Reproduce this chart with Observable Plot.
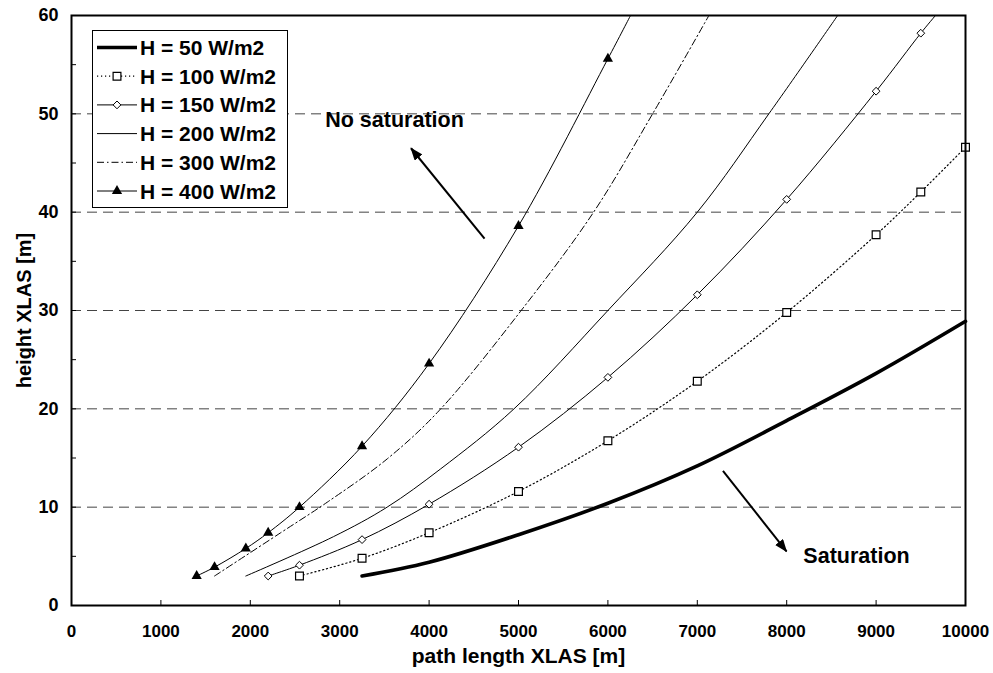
<!DOCTYPE html>
<html>
<head>
<meta charset="utf-8">
<script src="https://cdn.jsdelivr.net/npm/d3@7"></script>
<script src="https://cdn.jsdelivr.net/npm/@observablehq/plot@0.6"></script>
<style>
  body { margin: 0; background: #fff; }
  #chart { width: 993px; height: 673px; }
</style>
</head>
<body>
<div id="chart"></div>
<script>
// ---------------- data ----------------
const seriesNames = ["H = 50 W/m2", "H = 100 W/m2", "H = 150 W/m2", "H = 200 W/m2", "H = 300 W/m2", "H = 400 W/m2"];

const h50X  = [3250, 4000, 5000, 6000, 7000, 8000, 9000, 10000];
const h50Y  = [3, 4.4, 7.2, 10.4, 14.2, 18.8, 23.6, 28.9];

const h100X = [2550, 3250, 4000, 5000, 6000, 7000, 8000, 9000, 9500, 10000];
const h100Y = [3, 4.8, 7.4, 11.6, 16.75, 22.8, 29.8, 37.7, 42.05, 46.6];

const h150X = [2200, 2550, 3250, 4000, 5000, 6000, 7000, 8000, 9000, 9500];
const h150Y = [3, 4.1, 6.7, 10.3, 16.1, 23.2, 31.6, 41.3, 52.3, 58.2];

const h200X = [1950, 2930, 3530, 4130, 4950, 6000, 7000, 7800];
const h200Y = [3, 7, 10, 13.9, 20, 30, 40, 50];

const h300X = [1600, 2340, 2860, 3530, 4110, 5030, 5840, 6500];
const h300Y = [3, 7.4, 10.5, 14.9, 19.8, 30, 40, 50];

const h400X = [1400, 1600, 1950, 2200, 2550, 3250, 4000, 5000, 6000];
const h400Y = [3, 3.9, 5.8, 7.4, 10, 16.2, 24.6, 38.6, 55.6];

// path length where a curve leaves the top of the chart (height 60 m)
const topExitX = [null, null, 9664, 8570, 7130, 6253];
const yMax = 60;

const xTicks = [0, 1000, 2000, 3000, 4000, 5000, 6000, 7000, 8000, 9000, 10000];
const yTicks = [0, 10, 20, 30, 40, 50, 60];
const yMinorTicks = [0, 5, 10, 15, 20, 25, 30, 35, 40, 45, 50, 55, 60];
const gridY = [10, 20, 30, 40, 50];

const annotText = ["No saturation", "Saturation"];
const annotX = [3613, 8781];
const annotY = [49.4, 5.0];

const arrowX1 = [4620, 7287];
const arrowY1 = [37.3, 13.7];
const arrowX2 = [3798, 7998];
const arrowY2 = [46.5, 5.5];

const xTitle = "path length XLAS [m]";
const yTitle = "height XLAS [m]";

// ---------------- build ----------------
const seriesX = [h50X, h100X, h150X, h200X, h300X, h400X];
const seriesY = [h50Y, h100Y, h150Y, h200Y, h300Y, h400Y];

const styles = [
  {strokeWidth: 3.6},
  {strokeWidth: 1.2, strokeDasharray: "1.2,2.8", symbol: "square", r: 4.4, fill: "white", strokeWidthDot: 1.2},
  {strokeWidth: 1, symbol: "diamond2", r: 3.5, fill: "white", strokeWidthDot: 1},
  {strokeWidth: 1},
  {strokeWidth: 1, strokeDasharray: "7,3,1.5,3"},
  {strokeWidth: 1, symbol: "triangle", r: 3.8, fill: "black", strokeWidthDot: 0}
];

const lineData = seriesNames.map((name, i) => {
  const pts = seriesX[i].map((x, j) => ({x, y: seriesY[i][j]}));
  if (topExitX[i] != null) pts.push({x: topExitX[i], y: yMax});
  return pts;
});
const dotData = seriesNames.map((name, i) => seriesX[i].map((x, j) => ({x, y: seriesY[i][j]})));

const FONT = "'Liberation Sans', Arial, Helvetica, sans-serif";

const marks = [];
marks.push(Plot.ruleY(gridY, {stroke: "#444", strokeWidth: 1, strokeDasharray: "10,6"}));

seriesNames.forEach((name, i) => {
  const s = styles[i];
  marks.push(Plot.line(lineData[i], {
    x: "x", y: "y", curve: "catmull-rom", stroke: "black",
    strokeWidth: s.strokeWidth, strokeDasharray: s.strokeDasharray
  }));
});
seriesNames.forEach((name, i) => {
  const s = styles[i];
  if (!s.symbol) return;
  marks.push(Plot.dot(dotData[i], {
    x: "x", y: "y", symbol: s.symbol, r: s.r, fill: s.fill,
    stroke: s.strokeWidthDot ? "black" : "none", strokeWidth: s.strokeWidthDot
  }));
});

marks.push(Plot.frame({stroke: "black", strokeWidth: 2}));
marks.push(Plot.ruleX(xTicks, {x: d => d, y1: 0, y2: 0, insetTop: -5, stroke: "black", strokeWidth: 1}));
marks.push(Plot.ruleY(yMinorTicks, {y: d => d, x1: 0, x2: 0, insetRight: -5, stroke: "black", strokeWidth: 1}));

marks.push(Plot.axisX({ticks: xTicks, tickSize: 0, tickPadding: 19, tickFormat: d => String(d), label: null, fontSize: 17, fontWeight: "bold"}));
marks.push(Plot.axisY({ticks: yTicks, tickSize: 0, tickPadding: 13, tickFormat: d => String(d), label: null, fontSize: 18, fontWeight: "bold"}));

marks.push(Plot.text([xTitle], {frameAnchor: "bottom", dy: 57, text: d => d, fontSize: 21, fontWeight: "bold", textAnchor: "middle"}));
marks.push(Plot.text([yTitle], {frameAnchor: "left", dx: -47, rotate: -90, text: d => d, fontSize: 20, fontWeight: "bold", textAnchor: "middle"}));

marks.push(Plot.text(annotText, {x: (d, i) => annotX[i], y: (d, i) => annotY[i], text: d => d, fontSize: 21.5, fontWeight: "bold"}));
marks.push(Plot.link(arrowX1, {
  x1: (d, i) => arrowX1[i], y1: (d, i) => arrowY1[i],
  x2: (d, i) => arrowX2[i], y2: (d, i) => arrowY2[i],
  stroke: "black", strokeWidth: 2
}));

const svg = Plot.plot({
  width: 993,
  height: 673,
  marginLeft: 71,
  marginRight: 28,
  marginTop: 15,
  marginBottom: 68,
  style: {fontFamily: FONT, color: "black", background: "white"},
  x: {domain: [0, 10000]},
  y: {domain: [0, 60]},
  marks
});

// arrowheads (filled)
const defs = d3.select(svg).insert("defs", ":first-child");
defs.append("marker")
  .attr("id", "ahead").attr("viewBox", "0 0 13 10")
  .attr("refX", 12).attr("refY", 5)
  .attr("markerWidth", 13).attr("markerHeight", 10)
  .attr("markerUnits", "userSpaceOnUse").attr("orient", "auto")
  .append("path").attr("d", "M0,0L13,5L0,10Z").attr("fill", "black");
d3.select(svg).selectAll('g[aria-label="link"] path').attr("marker-end", "url(#ahead)");

// legend inside the plot area
const lg = d3.select(svg).append("g").attr("font-family", FONT).attr("text-anchor", "start");
lg.append("rect").attr("x", 92.5).attr("y", 30.5).attr("width", 195).attr("height", 177)
  .attr("fill", "white").attr("stroke", "black").attr("stroke-width", 1);
seriesNames.forEach((name, i) => {
  const s = styles[i];
  const cy = 47.5 + i * 28.7;
  lg.append("line").attr("x1", 97).attr("x2", 137).attr("y1", cy).attr("y2", cy)
    .attr("stroke", "black").attr("stroke-width", s.strokeWidth)
    .attr("stroke-dasharray", s.strokeDasharray || null);
  if (s.symbol) {
    const symType = {square: d3.symbolSquare, diamond2: d3.symbolDiamond2, triangle: d3.symbolTriangle}[s.symbol];
    lg.append("path").attr("d", d3.symbol(symType, Math.PI * s.r * s.r)())
      .attr("transform", `translate(117,${cy})`)
      .attr("fill", s.fill).attr("stroke", s.strokeWidthDot ? "black" : "none")
      .attr("stroke-width", s.strokeWidthDot || 0);
  }
  lg.append("text").attr("x", 140).attr("y", cy).attr("dy", "0.36em")
    .attr("text-anchor", "start")
    .attr("font-size", 21).attr("font-weight", "bold").attr("fill", "black").text(name);
});

document.getElementById("chart").appendChild(svg);
</script>
</body>
</html>
